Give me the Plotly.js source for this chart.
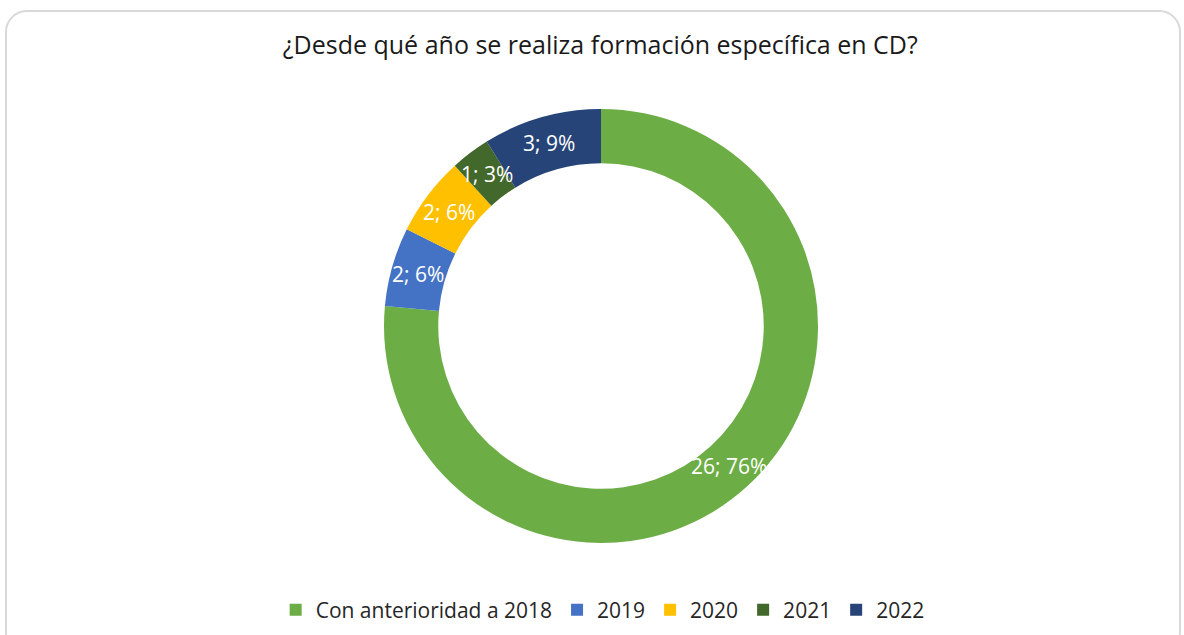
<!DOCTYPE html>
<html>
<head>
<meta charset="utf-8">
<script src="https://cdn.plot.ly/plotly-3.0.1.min.js"></script>
<style>
  html, body { margin: 0; padding: 0; background: #ffffff; overflow: hidden; }
  #wrap { position: relative; width: 1184px; height: 635px; }
  #chart { position: absolute; left: 0; top: 0; width: 1184px; height: 635px; }
  #frame { position: absolute; left: 5px; top: 10px; width: 1172px; height: 640px;
           border: 2px solid #d9d9d9; border-radius: 22px; pointer-events: none; }
</style>
</head>
<body>
<div id="wrap">
  <div id="chart"></div>
  <div id="frame"></div>
</div>
<script>
const categories = ["Con anterioridad a 2018", "2019", "2020", "2021", "2022"];
const counts = [26, 2, 2, 1, 3];
const sliceColors = ["#6cad45", "#4472c4", "#ffc000", "#43682b", "#264478"];
const chartTitle = "¿Desde qué año se realiza formación específica en CD?";

const W = 1184, H = 635;
const cx = 601, cy = 326, R = 217;
const HOLE = 0.75;

const trace = {
  type: "pie",
  labels: categories,
  values: counts,
  sort: false,
  direction: "clockwise",
  rotation: 0,
  hole: HOLE,
  marker: { colors: sliceColors, line: { color: "#ffffff", width: 0 } },
  textinfo: "none",
  hoverinfo: "label+value+percent",
  domain: {
    x: [(cx - R) / W, (cx + R) / W],
    y: [(H - cy - R) / H, (H - cy + R) / H]
  }
};

// Data labels placed at the middle of each ring segment (angles derived from the values)
const total = counts.reduce((a, b) => a + b, 0);
const rMid = R * (1 + HOLE) / 2;
let cum = 0;
const annotations = counts.map((v) => {
  const mid = (cum + v / 2) / total * 2 * Math.PI;
  cum += v;
  const px = cx + rMid * Math.sin(mid);
  const py = cy - rMid * Math.cos(mid);
  return {
    xref: "paper", yref: "paper",
    x: px / W, y: 1 - py / H,
    xanchor: "center", yanchor: "middle",
    showarrow: false,
    text: v + "; " + Math.round(v / total * 100) + "%",
    font: { family: "Open Sans, sans-serif", size: 21, color: "#ffffff" }
  };
});

const layout = {
  width: W, height: H,
  margin: { l: 0, r: 0, t: 0, b: 0 },
  paper_bgcolor: "#ffffff",
  title: {
    text: chartTitle,
    font: { family: "Open Sans, sans-serif", size: 25, color: "#1a1a1a" },
    x: 0.507, xanchor: "center",
    y: 1 - 45 / H, yanchor: "middle"
  },
  annotations: annotations,
  showlegend: true,
  legend: {
    orientation: "h",
    x: 0.509, xanchor: "center",
    y: 1 - 610 / H, yanchor: "middle",
    font: { family: "Open Sans, sans-serif", size: 21, color: "#262626" },
    traceorder: "normal",
    itemclick: false
  }
};

Plotly.newPlot("chart", [trace], layout, { displayModeBar: false, staticPlot: true });
</script>
</body>
</html>
